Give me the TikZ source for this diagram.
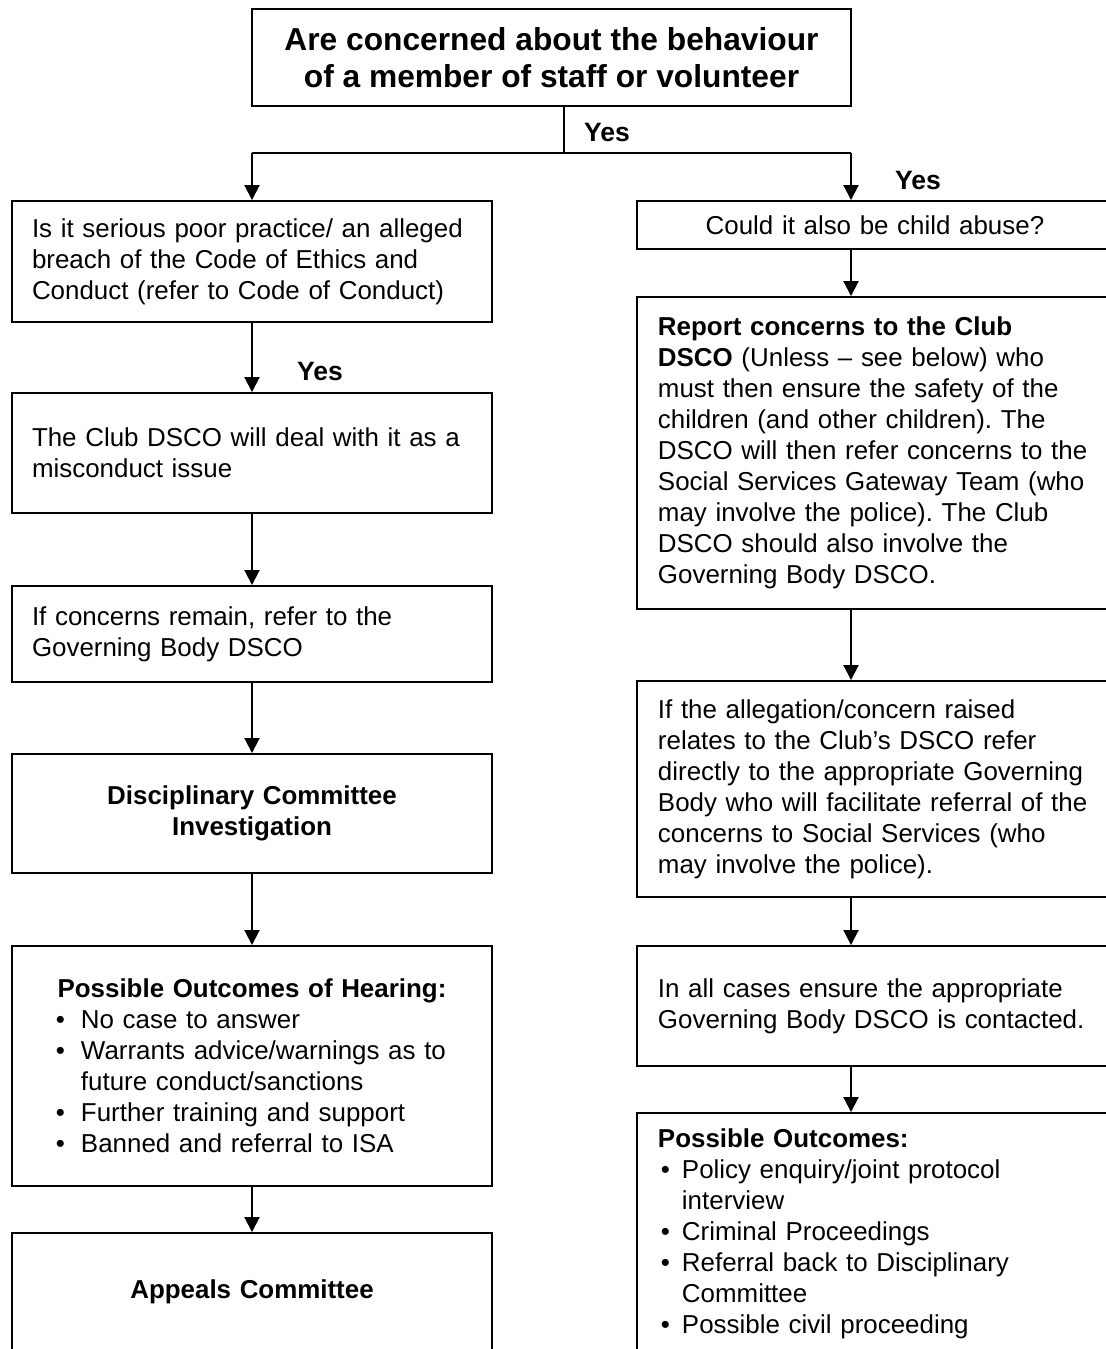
\documentclass[tikz,border=0pt]{standalone}
\usepackage{fontspec}
\setmainfont{Liberation Sans}
\usetikzlibrary{arrows.meta}
\hyphenpenalty=10000
\exhyphenpenalty=10000
\frenchspacing
\newcommand{\bulletline}[2]{\hspace*{#1}\makebox[#2][l]{\textbullet}}

\begin{document}
\begin{tikzpicture}
        [auto,
         box_style/.style={rectangle,draw=black,line width=1.1pt,inner xsep=0.4cm,inner ysep=0.1cm,
                           text width=8.8cm,align=left,font=\fontsize{14.75}{17.6}\selectfont},
         box_right_style/.style={box_style,anchor=west,inner xsep=0.42cm,text width=8.9cm},
         head_style/.style={rectangle,draw=black,line width=1.1pt,minimum width=11.98cm,minimum height=1.94cm,
                            align=center,font=\fontsize{18.05}{21}\selectfont\bfseries},
         label_style/.style={font=\fontsize{15.1}{17.6}\selectfont\bfseries},
         edge_style/.style={draw=black,line width=1.1pt},
         arrow_style/.style={edge_style,-{Triangle[width=0.3cm,length=0.3cm]}}]
            \useasboundingbox (0,0) rectangle (22.12,-26.98);
            \clip (0,0) rectangle (22.12,-26.98);
            % top of the chart
            \node[head_style] (top) at (11.03,-1.15) {Are concerned about the behaviour\\ of a member of staff or volunteer};
            \coordinate (jt) at (11.28,-3.06);
            \coordinate (jl) at (5.04,-3.06);
            \coordinate (jr) at (17.02,-3.06);
            \node[label_style] (yes_top) at (12.14,-2.64) {Yes};
            \node[label_style] (yes_right) at (18.36,-3.6) {Yes};
            \node[label_style] (yes_left) at (6.4,-7.42) {Yes};
            % left column
            \node[box_style,minimum height=2.42cm] (l1) at (5.04,-5.23) {Is it serious poor practice/ an alleged\\ breach of the Code of Ethics and\\ Conduct (refer to Code of Conduct)};
            \node[box_style,minimum height=2.4cm] (l2) at (5.04,-9.06) {The Club DSCO will deal with it as a\\ misconduct issue};
            \node[box_style,minimum height=1.92cm] (l3) at (5.04,-12.68) {If concerns remain, refer to the\\ Governing Body DSCO};
            \node[box_style,minimum height=2.38cm,align=center,font=\fontsize{14.75}{17.6}\selectfont\bfseries] (l4) at (5.04,-16.27) {Disciplinary Committee\\ Investigation};
            \node[box_style,minimum height=4.8cm] (l5) at (5.04,-21.32) {\makebox[\hsize][c]{\bfseries Possible Outcomes of Hearing:}\\
                \bulletline{0.48cm}{0.5cm}No case to answer\\
                \bulletline{0.48cm}{0.5cm}Warrants advice/warnings as to\\
                \hspace*{0.98cm}future conduct/sanctions\\
                \bulletline{0.48cm}{0.5cm}Further training and support\\
                \bulletline{0.48cm}{0.5cm}Banned and referral to ISA};
            \node[box_style,minimum height=2.36cm,align=center,font=\fontsize{14.75}{17.6}\selectfont\bfseries] (l6) at (5.04,-25.84) {Appeals Committee};
            % right column
            \node[box_right_style,minimum height=0.96cm,text width=8.68cm,align=center] (r1) at (12.72,-4.5) {Could it also be child abuse?};
            \node[box_right_style,minimum height=6.24cm] (r2) at (12.72,-9.06) {\textbf{Report concerns to the Club}\\
                \textbf{DSCO} (Unless – see below) who\\ must then ensure the safety of the\\ children (and other children). The\\
                DSCO will then refer concerns to the\\ Social Services Gateway Team (who\\ may involve the police). The Club\\
                DSCO should also involve the\\ Governing Body DSCO.};
            \node[box_right_style,minimum height=4.32cm] (r3) at (12.72,-15.78) {If the allegation/concern raised\\
                relates to the Club’s DSCO refer\\ directly to the appropriate Governing\\ Body who will facilitate referral of the\\
                concerns to Social Services (who\\ may involve the police).};
            \node[box_right_style,minimum height=2.4cm] (r4) at (12.72,-20.12) {In all cases ensure the appropriate\\ Governing Body DSCO is contacted.};
            \node[box_right_style,minimum height=4.84cm] (r5) at (12.72,-24.68) {\textbf{Possible Outcomes:}\\
                \bulletline{0.06cm}{0.42cm}Policy enquiry/joint protocol\\
                \hspace*{0.48cm}interview\\
                \bulletline{0.06cm}{0.42cm}Criminal Proceedings\\
                \bulletline{0.06cm}{0.42cm}Referral back to Disciplinary\\
                \hspace*{0.48cm}Committee\\
                \bulletline{0.06cm}{0.42cm}Possible civil proceeding};
            % connectors
            \draw[edge_style]  (jt |- top.south) -- (jt);
            \draw[edge_style]  (jl) -- (jr);
            \draw[arrow_style] (jl) -- (l1.north);
            \draw[arrow_style] (jr) -- (jr |- r1.north);
            \draw[arrow_style] (l1) -- (l2);
            \draw[arrow_style] (l2) -- (l3);
            \draw[arrow_style] (l3) -- (l4);
            \draw[arrow_style] (l4) -- (l5);
            \draw[arrow_style] (l5) -- (l6);
            \draw[arrow_style] (jr |- r1.south) -- (jr |- r2.north);
            \draw[arrow_style] (jr |- r2.south) -- (jr |- r3.north);
            \draw[arrow_style] (jr |- r3.south) -- (jr |- r4.north);
            \draw[arrow_style] (jr |- r4.south) -- (jr |- r5.north);
        \end{tikzpicture}
\end{document}
